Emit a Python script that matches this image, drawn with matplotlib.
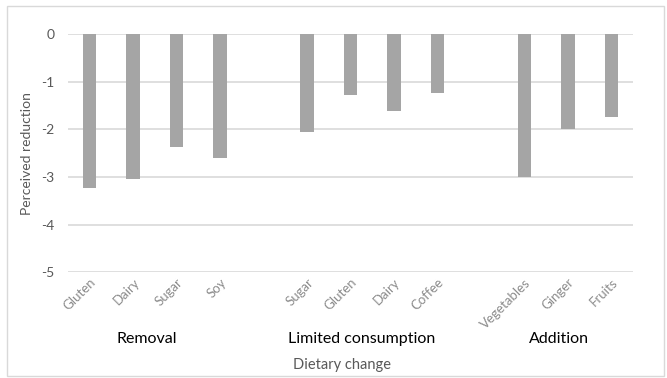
import matplotlib.pyplot as plt
import matplotlib.patches as patches
import matplotlib.transforms as mtransforms

plt.rcParams['font.family'] = ['Lato', 'DejaVu Sans']

# Datos
grupos = ["Removal", "Limited consumption", "Addition"]
removal_cats = ["Gluten", "Dairy", "Sugar", "Soy"]
removal_vals = [-3.24, -3.05, -2.37, -2.61]
limited_cats = ["Sugar", "Gluten", "Dairy", "Coffee"]
limited_vals = [-2.05, -1.27, -1.61, -1.24]
addition_cats = ["Vegetables", "Ginger", "Fruits"]
addition_vals = [-3.0, -2.0, -1.74]
y_ticks = [0, -1, -2, -3, -4, -5]

fig = plt.figure(figsize=(6.67, 3.78), dpi=100)
ax = fig.add_axes([0.102, 0.280, 0.847, 0.630])

# Posiciones: un hueco vacío entre grupos
cats, vals, pos, centros = [], [], [], []
x = 0
for c_list, v_list in [(removal_cats, removal_vals), (limited_cats, limited_vals), (addition_cats, addition_vals)]:
    inicio = x
    for c, v in zip(c_list, v_list):
        cats.append(c)
        vals.append(v)
        pos.append(x)
        x += 1
    centros.append((inicio + x - 1) / 2)
    x += 1

ax.bar(pos, vals, width=0.31, color='#a5a5a5', zorder=3)

ax.set_xlim(-0.5, pos[-1] + 0.5)
ax.set_ylim(-5, 0)
ax.set_yticks(y_ticks)
ax.set_yticklabels([str(t) for t in y_ticks], fontsize=10, color='#595959')
ax.yaxis.grid(True, color='#d9d9d9', linewidth=1.2, zorder=0)
ax.tick_params(axis='y', length=0, pad=10)
ax.tick_params(axis='x', length=0, pad=3)
ax.set_xticks(pos)
ax.set_xticklabels(cats, rotation=45, ha='right', rotation_mode='anchor',
                   fontsize=9.5, color='#8c8c8c')
for s in ax.spines.values():
    s.set_visible(False)

ax.set_ylabel("Perceived reduction", fontsize=10, color='#595959', labelpad=6)

# Etiquetas de grupo
trans = mtransforms.blended_transform_factory(ax.transData, fig.transFigure)
desplaz = [-0.2, -0.25, -0.2]
for g, c, d in zip(grupos, centros, desplaz):
    ax.text(c + d, 0.103, g, transform=trans, ha='center', va='center', fontsize=11.5, color='black')

fig.text(342 / 667, 1 - 365 / 378, "Dietary change", ha='center', va='center', fontsize=10.5, color='#595959')

# Borde
fig.patches.append(patches.Rectangle((0.011, 0.004), 0.984, 0.98, transform=fig.transFigure,
                                     fill=False, edgecolor='#d9d9d9', linewidth=1))

fig.savefig("out.png", dpi=100)
